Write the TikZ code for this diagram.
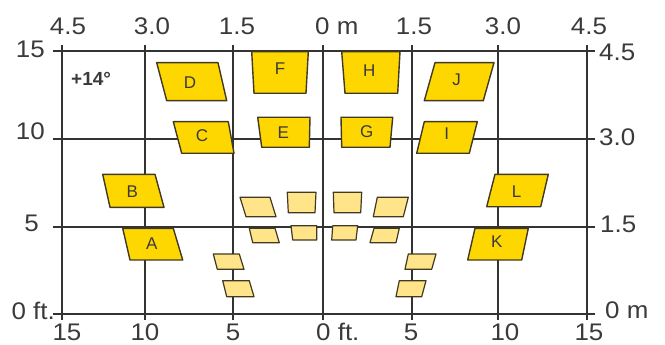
\documentclass[tikz,border=0pt]{standalone}
\usepackage{fontspec}
\setmainfont{Liberation Sans}
\definecolor{gridc}{HTML}{333333}
\definecolor{txtc}{HTML}{3A3A3A}
\definecolor{goldf}{HTML}{FFD700}
\definecolor{lightf}{HTML}{FFE48A}
\definecolor{edgec}{HTML}{403A22}
\tikzset{
  gridline/.style={draw=gridc, line width=1.7pt},
  axlab/.style={text=txtc, font=\fontsize{24}{24}\selectfont, inner sep=0pt, xscale=1.08},
  seat/.style={draw=edgec, fill=goldf, line width=1.4pt, line join=round},
  lseat/.style={draw=edgec, fill=lightf, line width=1.2pt, line join=round},
  seatlab/.style={text=txtc, font=\fontsize{17}{17}\selectfont, inner sep=0pt},
}
\begin{document}
\begin{tikzpicture}[x=1pt,y=-1pt]
\useasboundingbox (0,0) rectangle (665,345);
% grid
\foreach \gx in {61.7,144.8,232.7,323.3,411.7,498.3,586.7}
  \draw[gridline] (\gx,45) -- (\gx,320);
\foreach \gy in {51,139.3,226.7,314}
  \draw[gridline] (53,\gy) -- (595,\gy);
% top labels
\node[axlab, anchor=base] (t1) at (68,35) {4.5};
\node[axlab, anchor=base] (t2) at (152,35) {3.0};
\node[axlab, anchor=base] (t3) at (237,35) {1.5};
\node[axlab, anchor=base west] (t4) at (315,35) {0 m};
\node[axlab, anchor=base] (t5) at (414,35) {1.5};
\node[axlab, anchor=base] (t6) at (503,35) {3.0};
\node[axlab, anchor=base] (t7) at (589,35) {4.5};
% left labels
\node[axlab, anchor=east] (l1) at (45,49) {15};
\node[axlab, anchor=east] (l2) at (45,131) {10};
\node[axlab, anchor=east] (l3) at (39,223) {5};
\node[axlab, anchor=east] (l4) at (55,311) {0 ft.};
% right labels
\node[axlab, anchor=west] (r1) at (599,52) {4.5};
\node[axlab, anchor=west] (r2) at (599,137) {3.0};
\node[axlab, anchor=west] (r3) at (600,224) {1.5};
\node[axlab, anchor=west] (r4) at (605,310) {0 m};
% bottom labels
\node[axlab, anchor=base] (b1) at (67,340) {15};
\node[axlab, anchor=base] (b2) at (145,340) {10};
\node[axlab, anchor=base] (b3) at (233,340) {5};
\node[axlab, anchor=base west] (b4) at (316,340) {0 ft.};
\node[axlab, anchor=base] (b5) at (411,340) {5};
\node[axlab, anchor=base] (b6) at (505,340) {10};
\node[axlab, anchor=base] (b7) at (589,340) {15};
% angle
\node[text=txtc, font=\fontsize{19}{19}\bfseries\selectfont, inner sep=0pt, anchor=west] (ang) at (71,79) {+14°};
% gold seats
\draw[seat] (156.7,62.7) -- (218,62.7) -- (226.7,100.7) -- (166.7,100.7) -- cycle;
\node[seatlab] (D) at (190,83) {D};
\draw[seat] (173.3,121.7) -- (228.3,121.7) -- (234,153.3) -- (181.7,153.3) -- cycle;
\node[seatlab] (C) at (202,136) {C};
\draw[seat] (251.7,51.7) -- (308.3,51.7) -- (306,93.3) -- (254,93.3) -- cycle;
\node[seatlab] (F) at (280,69) {F};
\draw[seat] (257.7,117.3) -- (310,117.3) -- (309.3,147.3) -- (261.7,147.3) -- cycle;
\node[seatlab] (E) at (283.3,132.3) {E};
\draw[seat] (341.7,51.7) -- (400,51.7) -- (397.7,93.3) -- (345,93.3) -- cycle;
\node[seatlab] (H) at (369.3,71) {H};
\draw[seat] (341,117.3) -- (392.7,117.3) -- (390,147.3) -- (341.7,147.3) -- cycle;
\node[seatlab] (G) at (366.7,132) {G};
\draw[seat] (435,62.7) -- (494,62.7) -- (483.3,100.7) -- (424.3,100.7) -- cycle;
\node[seatlab] (J) at (456.7,80) {J};
\draw[seat] (424.3,121.7) -- (477.3,121.7) -- (469.3,153.3) -- (416.7,153.3) -- cycle;
\node[seatlab] (I) at (446.7,134) {I};
\draw[seat] (102.7,174.3) -- (155,174.3) -- (164,207.3) -- (110,207.3) -- cycle;
\node[seatlab] (B) at (132.3,192) {B};
\draw[seat] (122.7,228.3) -- (173.3,228.3) -- (182.7,260) -- (130,260) -- cycle;
\node[seatlab] (A) at (151.7,243.3) {A};
\draw[seat] (495,174.3) -- (548.3,174.3) -- (540.7,206.7) -- (486.7,206.7) -- cycle;
\node[seatlab] (L) at (516.7,191.7) {L};
\draw[seat] (475,228.3) -- (528.3,228.3) -- (521.7,260) -- (467.7,260) -- cycle;
\node[seatlab] (K) at (496.7,242) {K};
% light seats
\draw[lseat] (240,197.3) -- (270,197.3) -- (276,216.7) -- (246,216.7) -- cycle;
\draw[lseat] (287.3,192.3) -- (316,192.3) -- (315,212.7) -- (288.3,212.7) -- cycle;
\draw[lseat] (249.3,228.3) -- (275,228.3) -- (279.3,242.7) -- (252.7,242.7) -- cycle;
\draw[lseat] (291,225.7) -- (316.7,225.7) -- (316.7,240) -- (292.7,240) -- cycle;
\draw[lseat] (213.3,254) -- (239.3,254) -- (244,269.3) -- (217.3,269.3) -- cycle;
\draw[lseat] (222.7,280.7) -- (249.3,280.7) -- (254,296.7) -- (226.7,296.7) -- cycle;
\draw[lseat] (333.3,192.3) -- (361.7,192.3) -- (360.7,212.7) -- (334,212.7) -- cycle;
\draw[lseat] (377.3,197.3) -- (408.3,197.3) -- (403.3,216.7) -- (373.3,216.7) -- cycle;
\draw[lseat] (332.7,225.7) -- (357.7,225.7) -- (356,240) -- (331.7,240) -- cycle;
\draw[lseat] (374,228.3) -- (399.3,228.3) -- (396,242.7) -- (370,242.7) -- cycle;
\draw[lseat] (408.3,254) -- (436,254) -- (431.7,269.3) -- (405,269.3) -- cycle;
\draw[lseat] (399.3,280.7) -- (426,280.7) -- (421.7,296.7) -- (396,296.7) -- cycle;
\end{tikzpicture}
\end{document}
